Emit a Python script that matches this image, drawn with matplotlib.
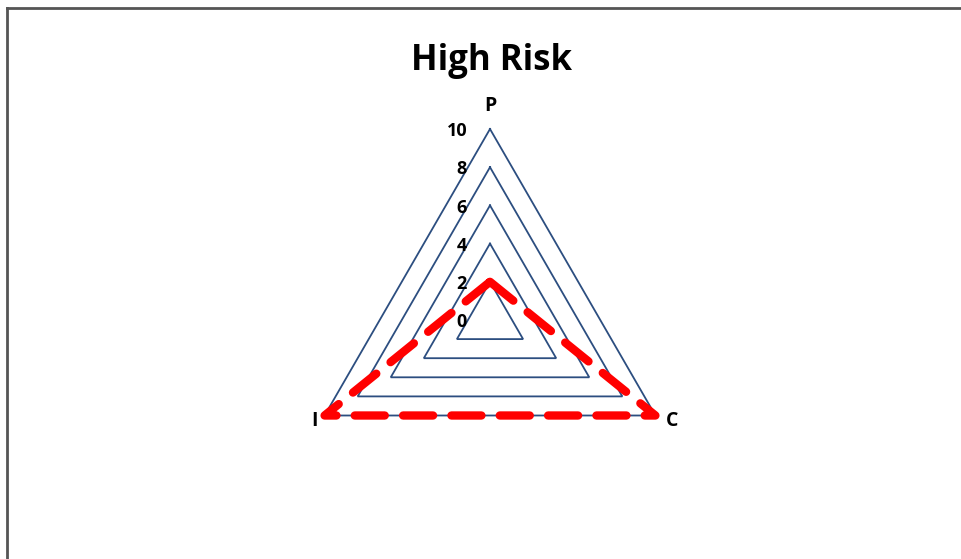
import numpy as np
import matplotlib
matplotlib.use("Agg")
import matplotlib.pyplot as plt
from matplotlib.lines import Line2D

title = "High Risk"
categories = ["P", "C", "I"]
values = [2, 10, 10]
grid_levels = [2, 4, 6, 8, 10]
tick_labels = ["0", "2", "4", "6", "8", "10"]
tick_values = [0, 2, 4, 6, 8, 10]

W, H = 962, 559
fig = plt.figure(figsize=(W / 100, H / 100), dpi=100)
ax = fig.add_axes([0, 0, 1, 1])
ax.set_axis_off()

scale = 19.1  # px per unit
cx, cy = 490, 320  # center in px (from top)
ax.set_xlim(-cx / scale, (W - cx) / scale)
ax.set_ylim(-(H - cy) / scale, cy / scale)

angles = np.pi / 2 - np.arange(len(categories)) * 2 * np.pi / len(categories)

def xy(vals):
    vals = np.asarray(vals, dtype=float)
    x = vals * np.cos(angles)
    y = vals * np.sin(angles)
    return np.append(x, x[0]), np.append(y, y[0])

grid_color = "#2C4E80"
for g in grid_levels:
    gx, gy = xy([g] * len(categories))
    ax.plot(gx, gy, color=grid_color, lw=1.3, solid_joinstyle="miter")

dx, dy = xy(values)
ax.plot(dx, dy, color="#FF0000", lw=6, dashes=(3.6, 2.2),
        dash_capstyle="round", solid_joinstyle="round")

font = "Open Sans"
for v, lab in zip(tick_values, tick_labels):
    ax.text(-1.2, v - 0.12, lab, ha="right", va="center", fontsize=13,
            fontweight="bold", family=font)

# category labels
offsets = [(0, 1.2), (0.85, -0.3), (-0.55, -0.3)]
for i, (cat, (ox, oy)) in enumerate(zip(categories, offsets)):
    vx = 10 * np.cos(angles[i])
    vy = 10 * np.sin(angles[i])
    ax.text(vx + ox, vy + oy, cat, ha="center", va="center", fontsize=14,
            fontweight="bold", family=font)

fig.text(492 / W, 1 - 61 / H, title, ha="center", va="center", fontsize=25,
         fontweight="bold", family=font)

# chart border
fig.add_artist(Line2D([7.5 / W, 7.5 / W], [0, 1 - 7.5 / H], transform=fig.transFigure,
                      color="#555555", lw=2))
fig.add_artist(Line2D([7.5 / W, 1], [1 - 7.5 / H, 1 - 7.5 / H], transform=fig.transFigure,
                      color="#555555", lw=2))

fig.savefig("out.png", dpi=100)
